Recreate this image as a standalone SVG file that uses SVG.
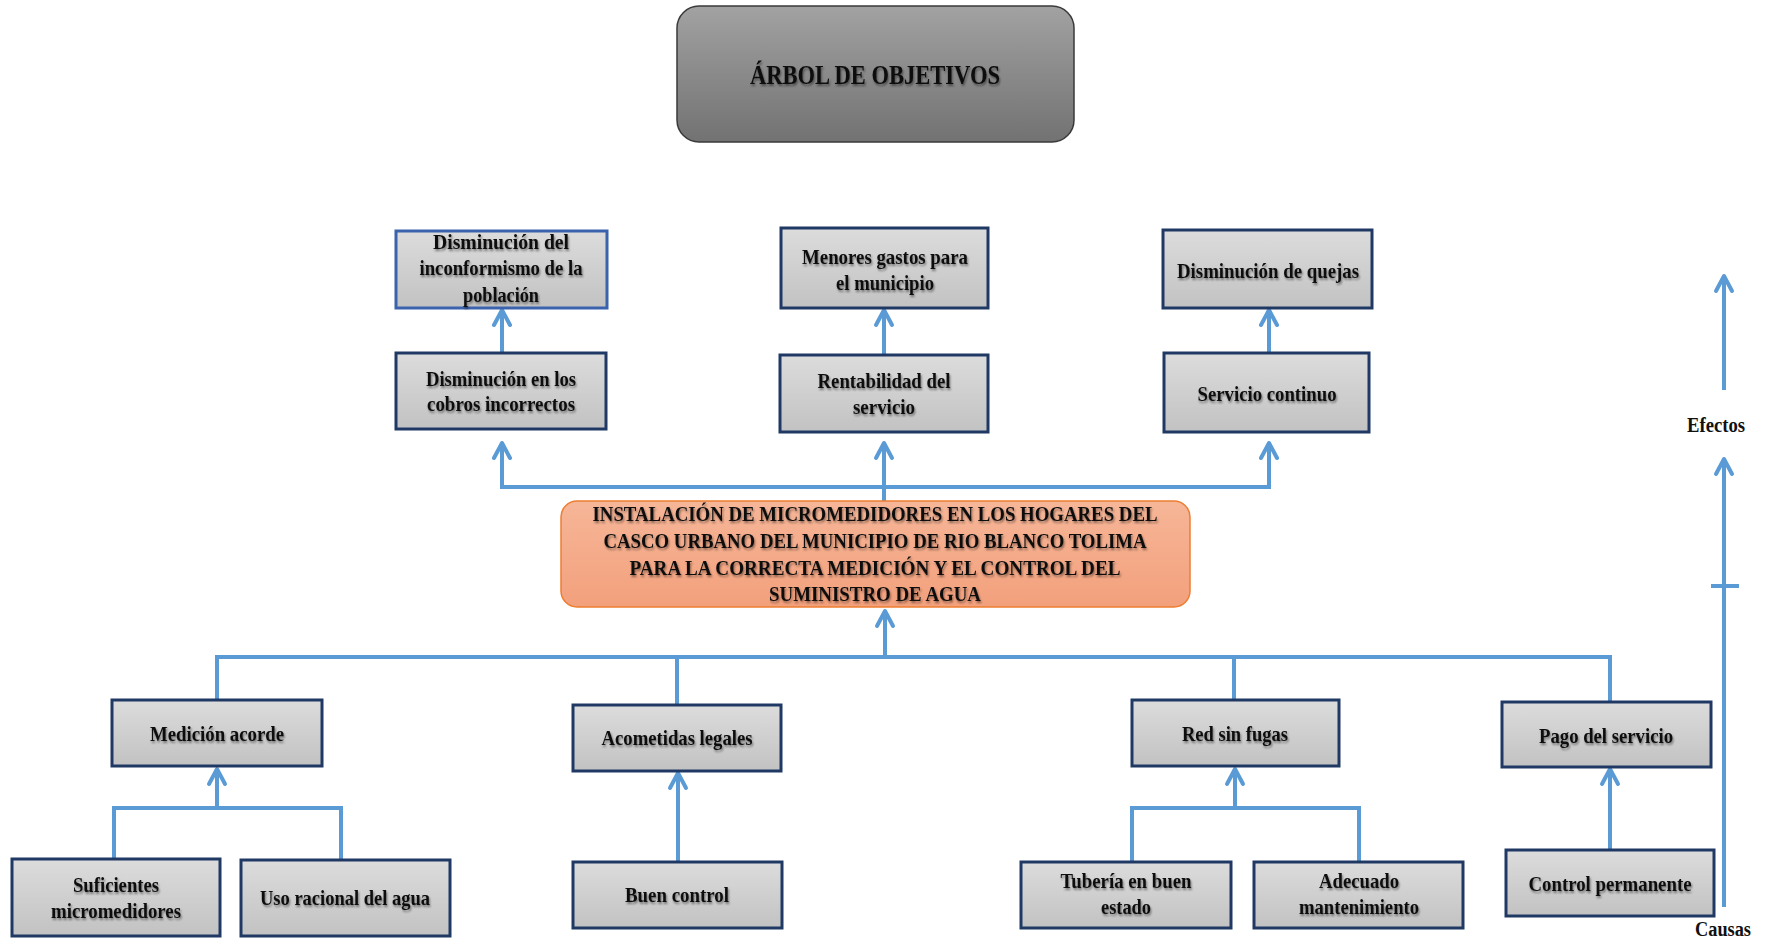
<svg xmlns="http://www.w3.org/2000/svg" width="1769" height="939" viewBox="0 0 1769 939">
  <defs>
    <linearGradient id="gTitle" x1="0" y1="0" x2="0" y2="1">
      <stop offset="0" stop-color="#a2a2a2"/>
      <stop offset="1" stop-color="#727272"/>
    </linearGradient>
    <linearGradient id="gBox" x1="0" y1="0" x2="0" y2="1">
      <stop offset="0" stop-color="#dcdcdc"/>
      <stop offset="1" stop-color="#c2c2c2"/>
    </linearGradient>
    <linearGradient id="gCore" x1="0" y1="0" x2="0" y2="1">
      <stop offset="0" stop-color="#f6b698"/>
      <stop offset="1" stop-color="#f3a07c"/>
    </linearGradient>
    <filter id="soft" x="-10%" y="-30%" width="120%" height="160%">
      <feGaussianBlur in="SourceAlpha" stdDeviation="1.2"/>
      <feOffset dx="1" dy="1.5" result="b"/>
      <feFlood flood-color="#000" flood-opacity="0.45"/>
      <feComposite in2="b" operator="in" result="s"/>
      <feMerge><feMergeNode in="s"/><feMergeNode in="SourceGraphic"/></feMerge>
    </filter>
    <marker id="arrow" markerUnits="userSpaceOnUse" markerWidth="30" markerHeight="30" viewBox="-20 -15 30 30" refX="0" refY="0" orient="auto" overflow="visible">
      <path d="M-15,-8 L0,0 L-15,8" fill="none" stroke="#5b9bd5" stroke-width="4" stroke-linejoin="round" stroke-linecap="round"/>
    </marker>
  </defs>
  <style>
    .box { fill: url(#gBox); stroke: #203864; stroke-width: 3; }
    .box.light { stroke: #3b62ac; }
    .lbl { font-family: "Liberation Serif", "Times New Roman", serif; font-weight: bold; font-size: 21px; fill: #111; text-anchor: middle; filter: url(#soft); }
    .title { font-size: 28px; }
    .axis { font-family: "Liberation Serif", "Times New Roman", serif; font-weight: bold; font-size: 20px; fill: #111; text-anchor: middle; }
    .wire { fill: none; stroke: #5b9bd5; stroke-width: 4; }
    .up { marker-end: url(#arrow); }
  </style>
  <rect width="1769" height="939" fill="#ffffff"/>

  <!-- connectors -->
  <g id="connectors">
    <!-- effects level -->
    <path class="wire up" d="M502,353 V310"/>
    <path class="wire up" d="M884,355 V310"/>
    <path class="wire up" d="M1269,353 V310"/>
    <path class="wire" d="M500,487 H1271"/>
    <path class="wire up" d="M502,487 V443"/>
    <path class="wire up" d="M884,501 V443"/>
    <path class="wire up" d="M1269,487 V443"/>
    <!-- causes level -->
    <path class="wire" d="M215,657 H1612"/>
    <path class="wire up" d="M885,657 V611"/>
    <path class="wire" d="M217,657 V700"/>
    <path class="wire" d="M677,657 V705"/>
    <path class="wire" d="M1234,657 V700"/>
    <path class="wire" d="M1610,657 V702"/>
    <path class="wire" d="M114,859 V808 H341 V859"/>
    <path class="wire up" d="M217,808 V769"/>
    <path class="wire up" d="M678,862 V773"/>
    <path class="wire" d="M1132,862 V808 H1359 V862"/>
    <path class="wire up" d="M1235,808 V769"/>
    <path class="wire up" d="M1610,850 V769"/>
    <!-- causes / effects axis -->
    <path class="wire up" d="M1724,390 V276"/>
    <path class="wire up" d="M1724,907 V459"/>
    <path class="wire" d="M1711,586 H1739"/>
  </g>

  <g id="title">
    <rect x="677" y="6" width="397" height="136" rx="22" fill="url(#gTitle)" stroke="#3a3a3a" stroke-width="1.5"/>
    <text class="lbl title" x="875" y="84" textLength="250" lengthAdjust="spacingAndGlyphs">ÁRBOL DE OBJETIVOS</text>
  </g>

  <g id="core">
    <rect x="561" y="501" width="629" height="106" rx="16" fill="url(#gCore)" stroke="#ed7d31" stroke-width="1.5"/>
    <text class="lbl" x="875" y="521" textLength="565" lengthAdjust="spacingAndGlyphs">INSTALACIÓN DE MICROMEDIDORES EN LOS HOGARES DEL</text>
    <text class="lbl" x="875" y="548" textLength="543" lengthAdjust="spacingAndGlyphs">CASCO URBANO DEL MUNICIPIO DE RIO BLANCO TOLIMA</text>
    <text class="lbl" x="875" y="575" textLength="491" lengthAdjust="spacingAndGlyphs">PARA LA CORRECTA MEDICIÓN Y EL CONTROL DEL</text>
    <text class="lbl" x="875" y="601" textLength="212" lengthAdjust="spacingAndGlyphs">SUMINISTRO DE AGUA</text>
  </g>

  <!-- effects -->
  <g id="efecto-inconformismo">
    <rect class="box light" x="396" y="231" width="211" height="77"/>
    <text class="lbl" x="501" y="249" textLength="136" lengthAdjust="spacingAndGlyphs">Disminución del</text>
    <text class="lbl" x="501" y="275" textLength="163" lengthAdjust="spacingAndGlyphs">inconformismo de la</text>
    <text class="lbl" x="501" y="302" textLength="76" lengthAdjust="spacingAndGlyphs">población</text>
  </g>
  <g id="efecto-gastos">
    <rect class="box" x="781" y="228" width="207" height="80"/>
    <text class="lbl" x="885" y="264" textLength="166" lengthAdjust="spacingAndGlyphs">Menores gastos para</text>
    <text class="lbl" x="885" y="290" textLength="98" lengthAdjust="spacingAndGlyphs">el municipio</text>
  </g>
  <g id="efecto-quejas">
    <rect class="box" x="1163" y="230" width="209" height="78"/>
    <text class="lbl" x="1268" y="278" textLength="182" lengthAdjust="spacingAndGlyphs">Disminución de quejas</text>
  </g>
  <g id="efecto-cobros">
    <rect class="box" x="396" y="353" width="210" height="76"/>
    <text class="lbl" x="501" y="386" textLength="150" lengthAdjust="spacingAndGlyphs">Disminución en los</text>
    <text class="lbl" x="501" y="411" textLength="148" lengthAdjust="spacingAndGlyphs">cobros incorrectos</text>
  </g>
  <g id="efecto-rentabilidad">
    <rect class="box" x="780" y="355" width="208" height="77"/>
    <text class="lbl" x="884" y="388" textLength="133" lengthAdjust="spacingAndGlyphs">Rentabilidad del</text>
    <text class="lbl" x="884" y="414" textLength="62" lengthAdjust="spacingAndGlyphs">servicio</text>
  </g>
  <g id="efecto-servicio">
    <rect class="box" x="1164" y="353" width="205" height="79"/>
    <text class="lbl" x="1267" y="401" textLength="139" lengthAdjust="spacingAndGlyphs">Servicio continuo</text>
  </g>

  <!-- causes -->
  <g id="medio-medicion">
    <rect class="box" x="112" y="700" width="210" height="66"/>
    <text class="lbl" x="217" y="741" textLength="134" lengthAdjust="spacingAndGlyphs">Medición acorde</text>
  </g>
  <g id="medio-acometidas">
    <rect class="box" x="573" y="705" width="208" height="66"/>
    <text class="lbl" x="677" y="745" textLength="151" lengthAdjust="spacingAndGlyphs">Acometidas legales</text>
  </g>
  <g id="medio-red">
    <rect class="box" x="1132" y="700" width="207" height="66"/>
    <text class="lbl" x="1235" y="741" textLength="106" lengthAdjust="spacingAndGlyphs">Red sin fugas</text>
  </g>
  <g id="medio-pago">
    <rect class="box" x="1502" y="702" width="209" height="65"/>
    <text class="lbl" x="1606" y="743" textLength="134" lengthAdjust="spacingAndGlyphs">Pago del servicio</text>
  </g>
  <g id="medio-suficientes">
    <rect class="box" x="12" y="859" width="208" height="77"/>
    <text class="lbl" x="116" y="892" textLength="86" lengthAdjust="spacingAndGlyphs">Suficientes</text>
    <text class="lbl" x="116" y="918" textLength="130" lengthAdjust="spacingAndGlyphs">micromedidores</text>
  </g>
  <g id="medio-uso">
    <rect class="box" x="241" y="860" width="209" height="76"/>
    <text class="lbl" x="345" y="905" textLength="170" lengthAdjust="spacingAndGlyphs">Uso racional del agua</text>
  </g>
  <g id="medio-buen-control">
    <rect class="box" x="573" y="862" width="209" height="66"/>
    <text class="lbl" x="677" y="902" textLength="104" lengthAdjust="spacingAndGlyphs">Buen control</text>
  </g>
  <g id="medio-tuberia">
    <rect class="box" x="1021" y="862" width="210" height="66"/>
    <text class="lbl" x="1126" y="888" textLength="131" lengthAdjust="spacingAndGlyphs">Tubería en buen</text>
    <text class="lbl" x="1126" y="914" textLength="50" lengthAdjust="spacingAndGlyphs">estado</text>
  </g>
  <g id="medio-mantenimiento">
    <rect class="box" x="1254" y="862" width="209" height="66"/>
    <text class="lbl" x="1359" y="888" textLength="80" lengthAdjust="spacingAndGlyphs">Adecuado</text>
    <text class="lbl" x="1359" y="914" textLength="120" lengthAdjust="spacingAndGlyphs">mantenimiento</text>
  </g>
  <g id="medio-control-permanente">
    <rect class="box" x="1506" y="850" width="208" height="66"/>
    <text class="lbl" x="1610" y="891" textLength="163" lengthAdjust="spacingAndGlyphs">Control permanente</text>
  </g>

  <g id="eje">
    <text class="axis" x="1716" y="432" textLength="58" lengthAdjust="spacingAndGlyphs">Efectos</text>
    <text class="axis" x="1723" y="936" textLength="56" lengthAdjust="spacingAndGlyphs">Causas</text>
  </g>
</svg>
